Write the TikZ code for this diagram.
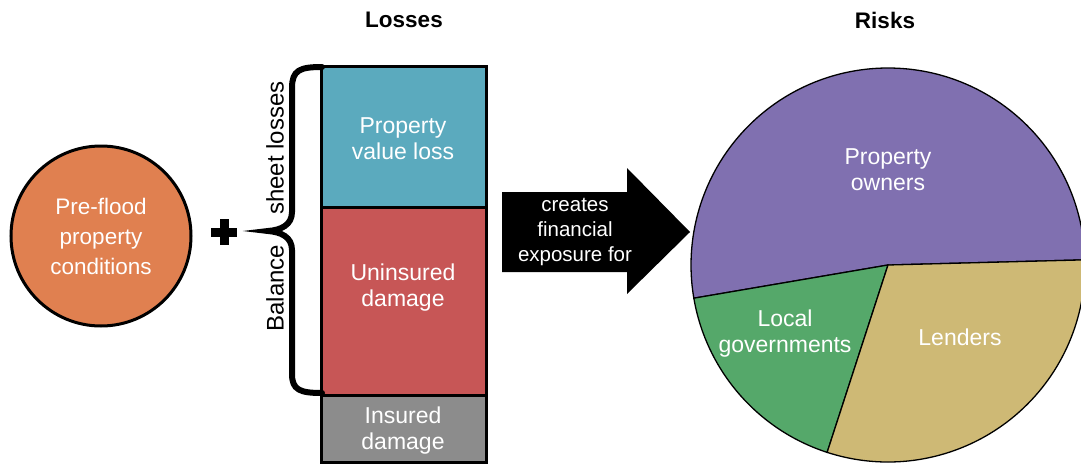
\documentclass[tikz,border=0pt]{standalone}
\usepackage{fontspec}
\setmainfont{Liberation Sans}
\definecolor{floodorange}{RGB}{224,128,80}
\definecolor{lossblue}{RGB}{91,170,190}
\definecolor{lossred}{RGB}{199,86,86}
\definecolor{lossgray}{RGB}{140,140,140}
\definecolor{ownerpurple}{RGB}{128,112,176}
\definecolor{govgreen}{RGB}{85,168,106}
\definecolor{lendertan}{RGB}{206,185,117}

\begin{document}
\begin{tikzpicture}[x=1pt, y=-1pt,
	intext/.style={text=white, align=center, font=\fontsize{23}{26}\selectfont},
	title/.style={font=\bfseries\fontsize{22.5}{26}\selectfont},
	sidetext/.style={rotate=90, font=\fontsize{24}{28}\selectfont},
	slice/.style={draw=black, line width=1.3}]
	%%%%% START %%%%%
	
	\clip (0,0) rectangle (1081,466);
	
	% headings
	\node[title] (losses) at (404,20) {Losses};
	\node[title] (risks) at (885,20) {Risks};
	
	% starting conditions
	\node[circle, draw=black, line width=3, fill=floodorange, minimum size=180,
		intext, font=\fontsize{22.5}{30}\selectfont] (flood) at (101,236)
		{Pre-flood\\property\\conditions};
	
	\fill (211,228) rectangle (237,237);
	\fill (219.5,219) rectangle (228.5,245);
	
	% stacked losses
	\draw[line width=3, fill=lossblue] (321,66) rectangle (486,207);
	\draw[line width=3, fill=lossred] (321,207) rectangle (486,395);
	\draw[line width=3, fill=lossgray] (321,395) rectangle (486,462);
	\node[intext] (value) at (403,139) {Property\\value loss};
	\node[intext] (uninsured) at (403,288) {Uninsured\\damage};
	\node[intext] (insured) at (403,431) {Insured\\damage};
	
	% brace
	\draw[line width=6, line cap=round] (322,67) .. controls (300,67) and (292,70) .. (292,88)
		-- (292,212) .. controls (292,225) and (281,230) .. (268,231)
		.. controls (281,232) and (292,237) .. (292,250)
		-- (292,374) .. controls (292,390) and (300,393) .. (322,393);
	\node[sidetext] (sheet) at (275,148) {sheet losses};
	\node[sidetext] (balance) at (275,288) {Balance};
	
	% arrow
	\fill (502,192) -- (627,192) -- (627,168) -- (690,232) -- (627,294)
		-- (627,272) -- (502,272) -- cycle;
	\node[intext, font=\fontsize{20.5}{25}\selectfont] (exposure) at (575,232)
		{creates\\financial\\exposure for};
	
	% risk shares
	\coordinate (pie) at (888,265);
	\draw[slice, fill=ownerpurple] (pie) -- ++(-1.5:197) arc (-1.5:-189.7:197) -- cycle;
	\draw[slice, fill=govgreen] (pie) -- ++(170.3:197) arc (170.3:108:197) -- cycle;
	\draw[slice, fill=lendertan] (pie) -- ++(108:197) arc (108:-1.5:197) -- cycle;
	
	\node[intext] (owners) at (888,170) {Property\\owners};
	\node[intext] (govs) at (785,334) {Local\\governments};
	\node[intext] (lenders) at (960,337) {Lenders};
	
	%%%%% END %%%%%
\end{tikzpicture}
\end{document}
